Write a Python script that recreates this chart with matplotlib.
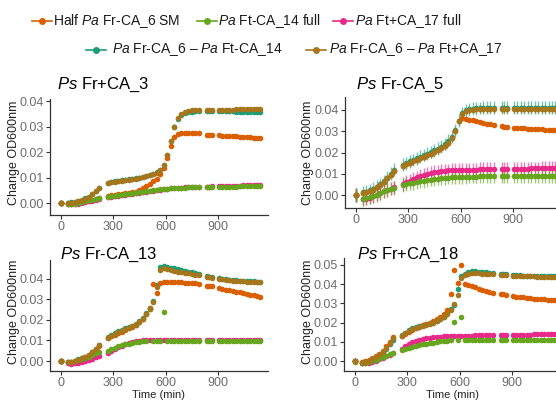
import matplotlib
matplotlib.use('Agg')
import matplotlib.pyplot as plt
from matplotlib.lines import Line2D
from matplotlib.ticker import FormatStrFormatter

plt.rcParams['font.family'] = ['Liberation Sans', 'DejaVu Sans']
plt.rcParams['mathtext.fontset'] = 'custom'
plt.rcParams['mathtext.rm'] = 'Liberation Sans'
plt.rcParams['mathtext.it'] = 'Liberation Sans:italic'

# ---------------- data ----------------
times = [0, 5, 40, 60, 80, 100, 120, 140, 160, 180, 200, 220,
         270, 290, 310, 330, 350, 370, 390, 410, 430, 450, 470, 490, 510, 530,
         550, 570, 590, 610, 630, 650, 670, 690, 710, 730, 750, 770, 790,
         835, 850, 865,
         905, 925, 945, 965, 985, 1005, 1025, 1045, 1065, 1085, 1105, 1125, 1140]

series_labels = ["Half $\\mathit{Pa}$ Fr-CA_6 SM",
                 "$\\mathit{Pa}$ Ft-CA_14 full",
                 "$\\mathit{Pa}$ Ft+CA_17 full",
                 "$\\mathit{Pa}$ Fr-CA_6 \u2013 $\\mathit{Pa}$ Ft-CA_14",
                 "$\\mathit{Pa}$ Fr-CA_6 \u2013 $\\mathit{Pa}$ Ft+CA_17"]
series_colors = ["#D95F02", "#66A61E", "#E7298A", "#1B9E77", "#A6761D"]

panel_titles = ["$\\mathit{Ps}$ Fr+CA_3", "$\\mathit{Ps}$ Fr-CA_5",
                "$\\mathit{Ps}$ Fr-CA_13", "$\\mathit{Ps}$ Fr+CA_18"]

# ---- panel 1: Ps Fr+CA_3 ----
p1_orange = [0.0000, 0.0000, -0.0002, -0.0002, 0.0000, 0.0002, 0.0004, 0.0006, 0.0008, 0.0011, 0.0015, 0.0019,
             0.0028, 0.0031, 0.0033, 0.0035, 0.0037, 0.0039, 0.0041, 0.0043, 0.0045, 0.0050, 0.0057, 0.0065, 0.0075,
             0.0085, 0.0096, 0.0112, 0.0138, 0.0175, 0.0222, 0.0258, 0.0271, 0.0275, 0.0276, 0.0276, 0.0275, 0.0274, 0.0273,
             0.0268, 0.0267, 0.0266,
             0.0265, 0.0264, 0.0263, 0.0262, 0.0262, 0.0261, 0.0260, 0.0259, 0.0258, 0.0257, 0.0256, 0.0255, 0.0254]
p1_green = [0.0000, 0.0000, -0.0003, -0.0003, -0.0002, 0.0000, 0.0003, 0.0006, 0.0010, 0.0013, 0.0016, 0.0019,
            0.0024, 0.0026, 0.0028, 0.0030, 0.0032, 0.0034, 0.0036, 0.0038, 0.0040, 0.0042, 0.0044, 0.0046, 0.0048,
            0.0050, 0.0052, 0.0054, 0.0055, 0.0056, 0.0057, 0.0058, 0.0059, 0.0060, 0.0060, 0.0061, 0.0061, 0.0062, 0.0062,
            0.0062, 0.0063, 0.0063,
            0.0063, 0.0063, 0.0064, 0.0064, 0.0064, 0.0064, 0.0065, 0.0065, 0.0065, 0.0065, 0.0065, 0.0066, 0.0066]
p1_pink = [0.0000, 0.0000, -0.0004, -0.0004, -0.0003, -0.0002, 0.0000, 0.0003, 0.0006, 0.0009, 0.0013, 0.0017,
           0.0023, 0.0025, 0.0027, 0.0029, 0.0031, 0.0033, 0.0035, 0.0037, 0.0039, 0.0041, 0.0043, 0.0045, 0.0047,
           0.0049, 0.0051, 0.0053, 0.0055, 0.0056, 0.0057, 0.0058, 0.0059, 0.0060, 0.0061, 0.0062, 0.0062, 0.0063, 0.0063,
           0.0064, 0.0064, 0.0065,
           0.0065, 0.0066, 0.0066, 0.0067, 0.0067, 0.0068, 0.0068, 0.0069, 0.0069, 0.0070, 0.0070, 0.0071, 0.0071]
p1_teal = [0.0000, 0.0000, 0.0002, 0.0003, 0.0005, 0.0008, 0.0012, 0.0018, 0.0025, 0.0035, 0.0047, 0.0060,
           0.0080, 0.0083, 0.0085, 0.0087, 0.0089, 0.0091, 0.0093, 0.0095, 0.0097, 0.0100, 0.0103, 0.0106, 0.0110,
           0.0114, 0.0120, 0.0130, 0.0150, 0.0190, 0.0245, 0.0300, 0.0330, 0.0345, 0.0352, 0.0356, 0.0358, 0.0359, 0.0360,
           0.0360, 0.0360, 0.0360,
           0.0360, 0.0360, 0.0359, 0.0359, 0.0359, 0.0358, 0.0358, 0.0358, 0.0358, 0.0357, 0.0357, 0.0357, 0.0357]
p1_brown = [0.0000, 0.0000, 0.0001, 0.0002, 0.0004, 0.0007, 0.0011, 0.0017, 0.0024, 0.0034, 0.0046, 0.0059,
            0.0078, 0.0081, 0.0083, 0.0085, 0.0087, 0.0089, 0.0091, 0.0093, 0.0096, 0.0099, 0.0102, 0.0105, 0.0109,
            0.0113, 0.0118, 0.0128, 0.0148, 0.0188, 0.0243, 0.0300, 0.0333, 0.0350, 0.0357, 0.0361, 0.0363, 0.0364, 0.0364,
            0.0364, 0.0365, 0.0365,
            0.0365, 0.0365, 0.0366, 0.0366, 0.0366, 0.0367, 0.0367, 0.0367, 0.0368, 0.0368, 0.0368, 0.0368, 0.0368]

# ---- panel 2: Ps Fr-CA_5 ----
p2_orange = [0.0000, 0.0000, 0.0008, 0.0012, 0.0018, 0.0026, 0.0036, 0.0048, 0.0062, 0.0078, 0.0096, 0.0115,
             0.0137, 0.0144, 0.0151, 0.0158, 0.0165, 0.0172, 0.0180, 0.0187, 0.0194, 0.0202, 0.0210, 0.0220, 0.0232,
             0.0247, 0.0268, 0.0300, 0.0350, 0.0360, 0.0357, 0.0354, 0.0351, 0.0348, 0.0345, 0.0340, 0.0336, 0.0332, 0.0328,
             0.0324, 0.0322, 0.0320,
             0.0317, 0.0315, 0.0314, 0.0313, 0.0312, 0.0311, 0.0310, 0.0310, 0.0309, 0.0308, 0.0307, 0.0306, 0.0305]
p2_green = [0.0000, 0.0000, -0.0018, -0.0015, -0.0010, -0.0005, 0.0002, 0.0010, 0.0018, 0.0025, 0.0030, 0.0034,
            0.0048, 0.0052, 0.0055, 0.0058, 0.0061, 0.0064, 0.0067, 0.0070, 0.0073, 0.0075, 0.0077, 0.0079, 0.0081,
            0.0082, 0.0083, 0.0084, 0.0085, 0.0086, 0.0086, 0.0087, 0.0087, 0.0087, 0.0088, 0.0088, 0.0088, 0.0088, 0.0088,
            0.0088, 0.0088, 0.0088,
            0.0088, 0.0088, 0.0088, 0.0088, 0.0088, 0.0088, 0.0088, 0.0088, 0.0088, 0.0088, 0.0088, 0.0088, 0.0088]
p2_pink = [0.0000, 0.0000, -0.0020, -0.0017, -0.0012, -0.0006, 0.0001, 0.0009, 0.0017, 0.0024, 0.0030, 0.0036,
           0.0052, 0.0060, 0.0068, 0.0076, 0.0083, 0.0089, 0.0094, 0.0099, 0.0103, 0.0107, 0.0110, 0.0112, 0.0114,
           0.0116, 0.0117, 0.0118, 0.0118, 0.0119, 0.0119, 0.0120, 0.0120, 0.0120, 0.0121, 0.0121, 0.0121, 0.0122, 0.0122,
           0.0122, 0.0123, 0.0123,
           0.0123, 0.0123, 0.0124, 0.0124, 0.0124, 0.0125, 0.0125, 0.0125, 0.0126, 0.0126, 0.0126, 0.0127, 0.0127]
p2_teal = [0.0000, 0.0000, 0.0012, 0.0016, 0.0022, 0.0030, 0.0040, 0.0052, 0.0066, 0.0082, 0.0100, 0.0120,
           0.0142, 0.0150, 0.0158, 0.0165, 0.0172, 0.0180, 0.0188, 0.0195, 0.0202, 0.0210, 0.0218, 0.0228, 0.0240,
           0.0255, 0.0275, 0.0305, 0.0350, 0.0385, 0.0398, 0.0403, 0.0406, 0.0408, 0.0409, 0.0410, 0.0410, 0.0410, 0.0410,
           0.0410, 0.0410, 0.0410,
           0.0410, 0.0410, 0.0410, 0.0410, 0.0410, 0.0410, 0.0410, 0.0410, 0.0410, 0.0410, 0.0410, 0.0410, 0.0410]
p2_brown = [0.0000, 0.0000, 0.0008, 0.0012, 0.0018, 0.0026, 0.0036, 0.0048, 0.0062, 0.0078, 0.0096, 0.0115,
            0.0137, 0.0144, 0.0151, 0.0158, 0.0165, 0.0172, 0.0180, 0.0187, 0.0194, 0.0202, 0.0210, 0.0220, 0.0232,
            0.0247, 0.0268, 0.0300, 0.0348, 0.0380, 0.0393, 0.0399, 0.0402, 0.0404, 0.0405, 0.0405, 0.0405, 0.0405, 0.0405,
            0.0405, 0.0405, 0.0405,
            0.0405, 0.0405, 0.0405, 0.0405, 0.0405, 0.0405, 0.0405, 0.0405, 0.0405, 0.0405, 0.0405, 0.0405, 0.0405]

# ---- panel 3: Ps Fr-CA_13 ----
p3_orange = [0.0000, 0.0000, -0.0006, -0.0005, 0.0000, 0.0007, 0.0013, 0.0020, 0.0028, 0.0042, 0.0057, 0.0074,
             0.0110, 0.0120, 0.0128, 0.0135, 0.0143, 0.0150, 0.0158, 0.0166, 0.0175, 0.0188, 0.0204, 0.0226, 0.0255,
             0.0376, 0.0330, 0.0378, 0.0383, 0.0383, 0.0382, 0.0382, 0.0381, 0.0381, 0.0380, 0.0379, 0.0378, 0.0377, 0.0376,
             0.0366, 0.0364, 0.0362,
             0.0355, 0.0351, 0.0347, 0.0343, 0.0340, 0.0337, 0.0334, 0.0330, 0.0326, 0.0322, 0.0318, 0.0314, 0.0311]
p3_green = [0.0000, 0.0000, -0.0005, -0.0004, 0.0000, 0.0005, 0.0010, 0.0015, 0.0020, 0.0029, 0.0037, 0.0045,
            0.0050, 0.0058, 0.0065, 0.0071, 0.0076, 0.0081, 0.0085, 0.0089, 0.0092, 0.0094, 0.0096, 0.0097, 0.0252,
            0.0097, 0.0097, 0.0097, 0.0237, 0.0097, 0.0097, 0.0097, 0.0097, 0.0097, 0.0097, 0.0097, 0.0097, 0.0097, 0.0097,
            0.0097, 0.0097, 0.0097,
            0.0097, 0.0097, 0.0097, 0.0097, 0.0097, 0.0097, 0.0097, 0.0097, 0.0097, 0.0096, 0.0096, 0.0096, 0.0096]
p3_pink = [0.0000, 0.0000, -0.0010, -0.0012, -0.0010, -0.0007, -0.0003, 0.0002, 0.0006, 0.0012, 0.0018, 0.0025,
           0.0038, 0.0048, 0.0058, 0.0067, 0.0075, 0.0082, 0.0088, 0.0093, 0.0097, 0.0099, 0.0101, 0.0102, 0.0102,
           0.0103, 0.0103, 0.0103, 0.0103, 0.0103, 0.0103, 0.0104, 0.0104, 0.0104, 0.0104, 0.0104, 0.0104, 0.0104, 0.0104,
           0.0104, 0.0104, 0.0104,
           0.0104, 0.0104, 0.0104, 0.0104, 0.0104, 0.0104, 0.0104, 0.0104, 0.0104, 0.0104, 0.0104, 0.0104, 0.0104]
p3_teal = [0.0000, 0.0000, -0.0006, -0.0005, 0.0000, 0.0008, 0.0015, 0.0022, 0.0030, 0.0045, 0.0060, 0.0078,
           0.0118, 0.0128, 0.0136, 0.0145, 0.0152, 0.0158, 0.0165, 0.0172, 0.0180, 0.0193, 0.0210, 0.0232, 0.0258,
           0.0290, 0.0370, 0.0455, 0.0462, 0.0458, 0.0453, 0.0449, 0.0445, 0.0441, 0.0437, 0.0433, 0.0430, 0.0427, 0.0424,
           0.0412, 0.0410, 0.0408,
           0.0402, 0.0399, 0.0397, 0.0395, 0.0393, 0.0392, 0.0390, 0.0389, 0.0388, 0.0387, 0.0386, 0.0385, 0.0384]
p3_brown = [0.0000, 0.0000, -0.0006, -0.0005, 0.0000, 0.0007, 0.0014, 0.0021, 0.0029, 0.0043, 0.0058, 0.0076,
            0.0114, 0.0124, 0.0132, 0.0140, 0.0147, 0.0154, 0.0161, 0.0169, 0.0177, 0.0190, 0.0206, 0.0228, 0.0254,
            0.0285, 0.0360, 0.0440, 0.0450, 0.0446, 0.0442, 0.0438, 0.0434, 0.0431, 0.0428, 0.0425, 0.0422, 0.0419, 0.0416,
            0.0408, 0.0406, 0.0404,
            0.0398, 0.0396, 0.0394, 0.0392, 0.0390, 0.0389, 0.0387, 0.0386, 0.0385, 0.0384, 0.0383, 0.0382, 0.0381]

# ---- panel 4: Ps Fr+CA_18 ----
p4_orange = [0.0000, 0.0000, -0.0005, 0.0000, 0.0006, 0.0016, 0.0026, 0.0038, 0.0055, 0.0078, 0.0102, 0.0125,
             0.0130, 0.0142, 0.0152, 0.0162, 0.0172, 0.0180, 0.0186, 0.0192, 0.0200, 0.0210, 0.0220, 0.0230, 0.0245,
             0.0265, 0.0347, 0.0475, 0.0405, 0.0500, 0.0400, 0.0395, 0.0390, 0.0384, 0.0377, 0.0370, 0.0364, 0.0359, 0.0355,
             0.0350, 0.0348, 0.0346,
             0.0338, 0.0335, 0.0333, 0.0331, 0.0329, 0.0327, 0.0325, 0.0323, 0.0322, 0.0321, 0.0320, 0.0319, 0.0318]
p4_green = [0.0000, -0.0005, -0.0010, -0.0008, -0.0005, 0.0000, 0.0005, 0.0012, 0.0020, 0.0028, 0.0035, 0.0042,
            0.0058, 0.0065, 0.0071, 0.0076, 0.0080, 0.0084, 0.0087, 0.0090, 0.0094, 0.0097, 0.0100, 0.0103, 0.0105,
            0.0107, 0.0108, 0.0203, 0.0109, 0.0229, 0.0110, 0.0110, 0.0110, 0.0110, 0.0111, 0.0111, 0.0111, 0.0111, 0.0111,
            0.0111, 0.0111, 0.0111,
            0.0112, 0.0112, 0.0112, 0.0112, 0.0112, 0.0112, 0.0112, 0.0112, 0.0112, 0.0112, 0.0112, 0.0112, 0.0112]
p4_pink = [0.0000, 0.0000, -0.0012, -0.0010, -0.0008, -0.0003, 0.0002, 0.0010, 0.0018, 0.0025, 0.0032, 0.0040,
           0.0065, 0.0078, 0.0090, 0.0098, 0.0106, 0.0112, 0.0117, 0.0120, 0.0123, 0.0125, 0.0127, 0.0128, 0.0129,
           0.0130, 0.0131, 0.0131, 0.0132, 0.0132, 0.0133, 0.0133, 0.0133, 0.0134, 0.0134, 0.0134, 0.0135, 0.0135, 0.0135,
           0.0136, 0.0136, 0.0136,
           0.0137, 0.0137, 0.0137, 0.0138, 0.0138, 0.0138, 0.0139, 0.0139, 0.0139, 0.0140, 0.0140, 0.0140, 0.0140]
p4_teal = [0.0000, 0.0000, -0.0010, -0.0005, 0.0000, 0.0010, 0.0020, 0.0030, 0.0045, 0.0065, 0.0090, 0.0110,
           0.0135, 0.0148, 0.0160, 0.0170, 0.0178, 0.0184, 0.0188, 0.0191, 0.0196, 0.0202, 0.0210, 0.0220, 0.0232,
           0.0248, 0.0270, 0.0292, 0.0375, 0.0440, 0.0455, 0.0462, 0.0466, 0.0466, 0.0465, 0.0463, 0.0461, 0.0459, 0.0457,
           0.0453, 0.0452, 0.0451,
           0.0448, 0.0447, 0.0446, 0.0445, 0.0445, 0.0444, 0.0444, 0.0443, 0.0443, 0.0442, 0.0442, 0.0441, 0.0441]
p4_brown = [0.0000, 0.0000, -0.0008, -0.0004, 0.0002, 0.0012, 0.0022, 0.0033, 0.0048, 0.0070, 0.0095, 0.0120,
            0.0132, 0.0145, 0.0156, 0.0166, 0.0174, 0.0180, 0.0185, 0.0189, 0.0194, 0.0200, 0.0208, 0.0218, 0.0230,
            0.0246, 0.0268, 0.0297, 0.0344, 0.0430, 0.0448, 0.0455, 0.0457, 0.0457, 0.0456, 0.0455, 0.0454, 0.0452, 0.0451,
            0.0448, 0.0447, 0.0446,
            0.0444, 0.0443, 0.0442, 0.0441, 0.0441, 0.0440, 0.0440, 0.0439, 0.0439, 0.0438, 0.0438, 0.0437, 0.0437]

# error-bar half widths per series (orange, green, pink, teal, brown)
p1_err = [0.0008, 0.0006, 0.0006, 0.0008, 0.0008]
p2_err = [0.0007, 0.0032, 0.0032, 0.0030, 0.0018]
p3_err = [0.0006, 0.0005, 0.0005, 0.0006, 0.0006]
p4_err = [0.0006, 0.0005, 0.0005, 0.0006, 0.0006]

panel_series = [[p1_orange, p1_green, p1_pink, p1_teal, p1_brown],
                [p2_orange, p2_green, p2_pink, p2_teal, p2_brown],
                [p3_orange, p3_green, p3_pink, p3_teal, p3_brown],
                [p4_orange, p4_green, p4_pink, p4_teal, p4_brown]]
panel_errs = [p1_err, p2_err, p3_err, p4_err]
y_ticks = [[0.00, 0.01, 0.02, 0.03, 0.04], [0.00, 0.01, 0.02, 0.03, 0.04],
           [0.00, 0.01, 0.02, 0.03, 0.04], [0.00, 0.01, 0.02, 0.03, 0.04, 0.05]]
x_ticks = [0, 300, 600, 900]

for s in panel_series:
    for v in s:
        assert len(v) == len(times), len(v)

# ---------------- layout ----------------
W, H = 556, 400
fig = plt.figure(figsize=(W / 100, H / 100), dpi=100)


def rect(l, t, r, b):
    return [l / W, 1 - b / H, (r - l) / W, (b - t) / H]


layout = [
    dict(r=rect(50, 99, 268, 215), ylim=(-0.0047, 0.0408), title=(57, 85), ylab=(14, 153)),
    dict(r=rect(345, 97, 563, 208), ylim=(-0.0061, 0.0461), title=(356, 85), ylab=(308, 153)),
    dict(r=rect(50, 260, 268, 371), ylim=(-0.0048, 0.0490), title=(60, 255), ylab=(14, 312), xlab=(159, 394.5)),
    dict(r=rect(344, 258, 562, 371), ylim=(-0.0051, 0.0536), title=(357, 255), ylab=(308, 312), xlab=(453, 394.5)),
]

draw_order = [3, 0, 2, 1, 4]
axis_col = '#333333'

for pi, lay in enumerate(layout):
    ax = fig.add_axes(lay['r'])
    for si in draw_order:
        vals = panel_series[pi][si]
        col = series_colors[si]
        ax.errorbar(times, vals, yerr=panel_errs[pi][si], fmt='none', ecolor=col,
                    elinewidth=1.0, alpha=0.6, capsize=0, zorder=2)
        ax.plot(times, vals, 'o', ms=4.0, color=col, mec='none', zorder=3)
    ax.set_xlim(-60, 1185)
    ax.set_ylim(*lay['ylim'])
    ax.set_xticks(x_ticks)
    ax.set_yticks(y_ticks[pi])
    ax.yaxis.set_major_formatter(FormatStrFormatter('%.2f'))
    for sp in ['top', 'right']:
        ax.spines[sp].set_visible(False)
    for sp in ['left', 'bottom']:
        ax.spines[sp].set_color(axis_col)
        ax.spines[sp].set_linewidth(0.9)
    ax.tick_params(length=3, width=0.8, color=axis_col, labelcolor='#6b6b6b',
                   labelsize=9, pad=1.5)
    ax.tick_params(axis='x', pad=1.0)
    ax.set_facecolor('none')
    tx, ty = lay['title']
    fig.text(tx / W, 1 - ty / H, panel_titles[pi], fontsize=12, ha='left', va='center', color='black')
    lx, ly = lay['ylab']
    fig.text(lx / W, 1 - ly / H, 'Change OD600nm', fontsize=9, rotation=90,
             ha='center', va='center', color='#222222')
    if 'xlab' in lay:
        xx, xy = lay['xlab']
        fig.text(xx / W, 1 - xy / H, 'Time (min)', fontsize=8, ha='center', va='center', color='#222222')

# ---------------- legend ----------------
legend_pos = [(32, 21, 53), (197, 21, 218), (333, 21, 355), (86, 50, 112), (306, 50, 329)]
for si, (x0, y0, xt) in enumerate(legend_pos):
    col = series_colors[si]
    yy = 1 - y0 / H
    fig.add_artist(Line2D([x0 / W, (x0 + 20) / W], [yy, yy], color=col, lw=1.2,
                          transform=fig.transFigure))
    fig.add_artist(Line2D([(x0 + 10) / W], [yy], marker='o', ms=5, color=col, mec='none',
                          transform=fig.transFigure))
    fig.text(xt / W, yy, series_labels[si], fontsize=10, ha='left', va='center', color='#1a1a1a')

fig.savefig('out.png', dpi=100)
